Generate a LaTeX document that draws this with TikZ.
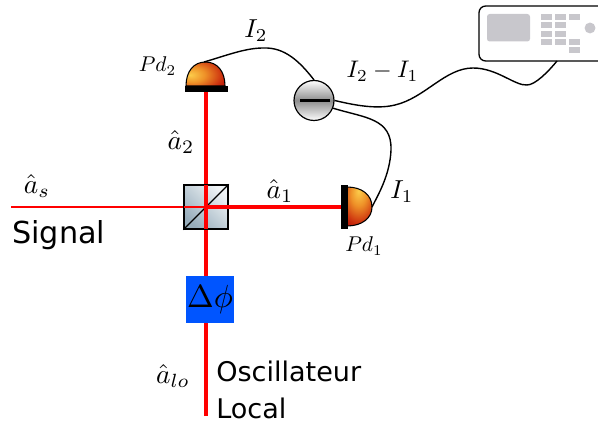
\documentclass[tikz,border=0pt]{standalone}
\usepackage{fontspec}
\setsansfont{DejaVu Sans}
\definecolor{keygrey}{RGB}{200,199,204}
\definecolor{phaseblue}{RGB}{0,85,255}
\definecolor{pdA}{RGB}{252,205,75}
\definecolor{pdB}{RGB}{238,145,40}
\definecolor{pdC}{RGB}{205,50,15}
\definecolor{pdD}{RGB}{165,0,0}
\definecolor{bsA}{RGB}{240,244,247}
\definecolor{bsB}{RGB}{150,172,186}
\pgfdeclareradialshading{pdball}{\pgfpoint{-20bp}{-2bp}}{%
  color(0bp)=(pdA);color(16bp)=(pdB);color(34bp)=(pdC);color(48bp)=(pdD);color(100bp)=(pdD)}
\tikzset{
  x=0.75pt,y=-0.75pt,
  mlabel/.style={inner sep=0pt,scale=1.8},
  ilabel/.style={inner sep=0pt,scale=1.95},
  hatlabel/.style={inner sep=0pt,scale=2.05},
  slabel/.style={inner sep=0pt,scale=1.6},
  tlabel/.style={inner sep=0pt,anchor=base west,font=\sffamily\fontsize{20.3}{26}\selectfont},
  beam/.style={draw=red,line width=3.7pt},
  hbeam/.style={draw=red,line width=3.2pt},
  thinbeam/.style={draw=red,line width=1pt},
  wire/.style={draw=black,line width=1.05pt},
  pdbar/.style={fill=black,draw=none},
  pdhead/.style={draw=black,line width=0.8pt,shading=pdball},
  keyrect/.style={fill=keygrey,draw=none},
}
\begin{document}
\begin{tikzpicture}
\useasboundingbox (0,0) rectangle (598,423);
% beam ends
\coordinate (sigstart) at (11,207);
\coordinate (bscentre) at (206,207);
\coordinate (pdtwoface) at (206,90);
\coordinate (pdoneface) at (343,207);
\coordinate (lostart) at (206,416);
% beams
\draw[beam] (lostart) -- (pdtwoface);
\draw[thinbeam] (sigstart) -- (bscentre);
% beam splitter
\node[minimum size=33pt,inner sep=0pt,draw=black,line width=1pt,
  shading=axis,left color=bsA,right color=bsB,shading angle=-45]
  (bs) at (206,207) {};
\draw[black,line width=0.9pt] (bs.south west) -- (bs.north east);
\draw[hbeam] (bscentre) -- (pdoneface);
\draw[beam] (206,185) -- (206,229);
\draw[thinbeam] (184,207) -- (bscentre);
% phase plate
\node[fill=phaseblue,minimum width=36pt,minimum height=35.5pt,inner sep=0pt]
  (phase) at (210,299.5) {};
\node[inner sep=0pt,scale=2.4] (phaselabel) at (phase.center) {$\Delta\phi$};
% photodiode 2
\draw[pdhead] (186,86) .. controls (186,71) and (194,62) .. (205.5,62)
   .. controls (217,62) and (225,71) .. (225,86) -- cycle;
\fill[pdbar] (185,86) rectangle (228,92.5);
\coordinate (pdtwo) at (204,62);
% photodiode 1
\draw[pdhead,shading angle=-90] (347,187) .. controls (362,187) and (372,195) .. (372,207)
   .. controls (372,218) and (362,226) .. (347,226) -- cycle;
\fill[pdbar] (341,185) rectangle (347.5,229);
\coordinate (pdone) at (372,207);
% balanced detector
\node[circle,minimum size=30pt,inner sep=0pt,draw=black,line width=0.9pt,
  shading=axis,top color=white,bottom color=white,middle color=black!45,shading angle=0] (det) at (314,100.5) {};
\draw[black,line width=1.6pt] (300,100.5) -- (330,100.5);
% instrument
\coordinate (instr) at (557,61);
\draw[black,line width=1pt,rounded corners=5pt] (598,6) -- (479,6) -- (479,61) -- (598,61);
\fill[keygrey,rounded corners=2pt] (487,14) rectangle (530,41.5);
\foreach \kx/\ky in {541/14,555/14,569/14,541/22,555/22,541/31,555/31,541/39,555/39,569/39,569/47}
  \fill[keyrect] (\kx,\ky) rectangle ++(11,6);
\fill[keygrey] (590,28) circle[radius=4.1pt];
% wires
\draw[wire] (pdtwo) .. controls (225,56) and (245,48) .. (263,48)
   .. controls (285,47) and (300,62) .. (det.north);
\draw[wire] (det.-22) .. controls (365,118) and (392,118) .. (391,150)
   .. controls (390,175) and (378,195) .. (pdone);
\draw[wire] (det.east) .. controls (350,104) and (375,110) .. (395,105)
   .. controls (425,98) and (445,68) .. (473,68)
   .. controls (497,68) and (515,86) .. (527,85)
   .. controls (535,85) and (548,72) .. (instr);
% labels
\node[ilabel] (lI2) at (256,31) {$I_2$};
\node[slabel] (lPd2) at (157.5,66) {$Pd_2$};
\node[mlabel] (lDiff) at (382.5,71.5) {$I_2-I_1$};
\node[ilabel] (lI1) at (402,192) {$I_1$};
\node[slabel] (lPd1) at (364,246) {$Pd_1$};
\node[hatlabel] (la2) at (181,142) {$\hat a_2$};
\node[hatlabel] (la1) at (280,191) {$\hat a_1$};
\node[hatlabel] (las) at (37,186) {$\hat a_s$};
\node[hatlabel] (lalo) at (173,376) {$\hat a_{lo}$};
\node[tlabel,font=\sffamily\fontsize{22.7}{26}\selectfont] (lsig) at (12,244) {Signal};
\node[tlabel] (losc) at (216,381) {Oscillateur};
\node[tlabel] (lloc) at (216,418) {Local};
\end{tikzpicture}
\end{document}
